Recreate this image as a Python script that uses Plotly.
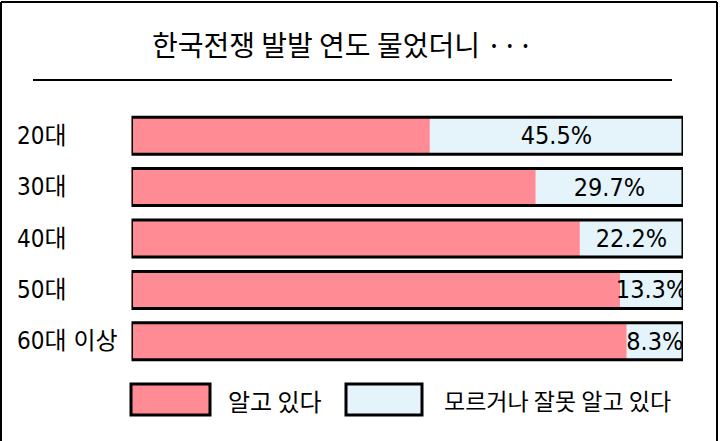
import plotly.graph_objects as go

W, H = 725, 441

ages = ["20대", "30대", "40대", "50대", "60대 이상"]
# labels printed on the bars
dont_know_label = [45.5, 29.7, 22.2, 13.3, 8.3]
# segment lengths as drawn in the picture (they don't quite match the labels)
know_len = [54.1, 73.3, 81.3, 88.6, 89.8]
dont_know_len = [45.9, 26.7, 18.7, 11.4, 10.2]
full = [100, 100, 100, 100, 100]

title_text = "한국전쟁 발발 연도 물었더니 ···"
legend_names = ["알고 있다", "모르거나 잘못 알고 있다"]

pink = "#ff8c94"
blue = "#e4f4fa"
kr_font = "Noto Sans CJK KR"
narrow = "DejaVu Sans Condensed, Noto Sans CJK KR"

fig = go.Figure()

fig.add_trace(go.Bar(y=ages, x=know_len, orientation="h", marker=dict(color=pink, line=dict(width=0)),
                     name=legend_names[0], hoverinfo="skip"))
fig.add_trace(go.Bar(y=ages, x=dont_know_len, base=know_len, orientation="h",
                     marker=dict(color=blue, line=dict(width=0)), name=legend_names[1],
                     text=[f"{v}%" for v in dont_know_label], textposition="inside",
                     insidetextanchor="middle", constraintext="none",
                     textfont=dict(family=narrow, size=25, color="black"), hoverinfo="skip"))
# black frame round each bar
fig.add_trace(go.Bar(y=ages, x=full, orientation="h",
                     marker=dict(color="rgba(0,0,0,0)", line=dict(color="black", width=3)),
                     hoverinfo="skip"))

# age labels, left aligned
for a in ages:
    fig.add_annotation(x=15 / W, xref="paper", y=a, yref="y", text=a, showarrow=False,
                       xanchor="left", font=dict(family=narrow, size=24, color="black"))

fig.add_annotation(x=342 / W, y=1 - 44 / H, xref="paper", yref="paper", text=title_text,
                   showarrow=False, yanchor="middle", font=dict(family=kr_font, size=28, color="black"))

# legend drawn by hand (big boxes)
fig.add_shape(type="rect", xref="paper", yref="paper", x0=131 / W, x1=210 / W,
              y0=1 - 415 / H, y1=1 - 384 / H, fillcolor=pink, line=dict(color="black", width=3))
fig.add_shape(type="rect", xref="paper", yref="paper", x0=346 / W, x1=422 / W,
              y0=1 - 415 / H, y1=1 - 384 / H, fillcolor=blue, line=dict(color="black", width=3))
fig.add_annotation(x=226 / W, y=1 - 400 / H, xref="paper", yref="paper", text=legend_names[0],
                   showarrow=False, xanchor="left", yanchor="middle",
                   font=dict(family=kr_font, size=24, color="black"))
fig.add_annotation(x=442 / W, y=1 - 400 / H, xref="paper", yref="paper", text=legend_names[1],
                   showarrow=False, xanchor="left", yanchor="middle",
                   font=dict(family=kr_font, size=23, color="black"))

# rule under title and outer frame
fig.add_shape(type="line", xref="paper", yref="paper", x0=33 / W, x1=672 / W,
              y0=1 - 80 / H, y1=1 - 80 / H, line=dict(color="black", width=2))
fig.add_shape(type="line", xref="paper", yref="paper", x0=1 / W, x1=1 / W, y0=0, y1=1 - 2 / H,
              line=dict(color="black", width=2))
fig.add_shape(type="line", xref="paper", yref="paper", x0=1 / W, x1=717 / W, y0=1 - 2 / H, y1=1 - 2 / H,
              line=dict(color="black", width=2))
fig.add_shape(type="line", xref="paper", yref="paper", x0=717 / W, x1=717 / W, y0=0, y1=1 - 2 / H,
              line=dict(color="black", width=2))

fig.update_layout(
    width=W, height=H,
    margin=dict(l=0, r=0, t=0, b=0),
    barmode="overlay", bargap=0.28,
    showlegend=False,
    plot_bgcolor="white", paper_bgcolor="white",
    xaxis=dict(domain=[131.5 / W, 683 / W], range=[0, 100], visible=False, fixedrange=True),
    yaxis=dict(domain=[1 - 367 / H, 1 - 110 / H], autorange="reversed", visible=False,
               categoryorder="array", categoryarray=ages, fixedrange=True),
)

# drop the default page margin so the figure sits at the window's top-left
fig.write_html("out.html", config={"displayModeBar": False},
               post_script="document.body.style.margin='0';")
